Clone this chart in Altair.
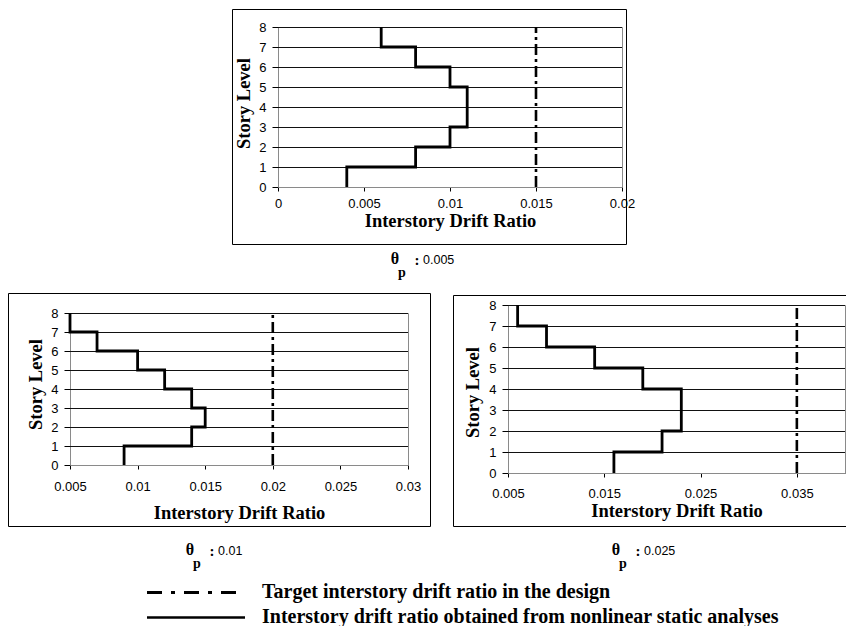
import altair as alt
import pandas as pd

W, H = 838, 618

# ---------------- data ----------------
levels = [0, 1, 2, 3, 4, 5, 6, 7, 8]
grid_levels = [1, 2, 3, 4, 5, 6, 7, 8]

# drift of each story (story i spans level i-1 .. i), stories 1..8
top_drift = [0.004, 0.008, 0.010, 0.011, 0.011, 0.010, 0.008, 0.006]
top_target = 0.015
top_xdomain = [0.0, 0.02]
top_xticks = [0.0, 0.005, 0.01, 0.015, 0.02]

bl_drift = [0.009, 0.014, 0.015, 0.014, 0.012, 0.010, 0.007, 0.005]
bl_target = 0.02
bl_xdomain = [0.005, 0.03]
bl_xticks = [0.005, 0.01, 0.015, 0.02, 0.025, 0.03]

br_drift = [0.016, 0.021, 0.023, 0.023, 0.019, 0.014, 0.009, 0.006]
br_target = 0.035
br_xdomain = [0.005, 0.04]
br_xticks = [0.005, 0.015, 0.025, 0.035]

theta_p = ["0.005", "0.01", "0.025"]
legend_labels = [
    "Target interstory drift ratio in the design",
    "Interstory drift ratio obtained from nonlinear static analyses",
]
x_title = "Interstory Drift Ratio"
y_title = "Story Level"

# ---------------- styles ----------------
SERIF = "Liberation Serif"
SANS = "Liberation Sans"
AX = dict(
    labelFont=SANS, labelFontSize=13, labelColor="#000",
    titleFont=SERIF, titleFontSize=18.5, titleFontWeight="bold", titleColor="#000",
    domainColor="#000", tickColor="#000", grid=False,
    labelOverlap=False, labelFlush=False,
)


def step_df(drift):
    xs, ys = [], []
    for i, v in enumerate(drift):
        xs += [v, v]
        ys += [levels[i], levels[i + 1]]
    return pd.DataFrame({"x": xs, "y": ys, "o": list(range(len(xs)))})


def panel(drift, target, xdomain, xticks, xr, yr, lab_pad, title_y, ytx, yty):
    xs = alt.Scale(domain=xdomain, range=xr, nice=False, zero=False)
    ys = alt.Scale(domain=[levels[0], levels[-1]], range=yr, nice=False, zero=False)
    xaxis = alt.Axis(orient="bottom", offset=yr[0] - H, values=xticks, format=".4~g",
                     title=x_title, tickSize=4, labelPadding=lab_pad,
                     titleY=title_y, titleBaseline="middle", **AX)
    yaxis = alt.Axis(orient="left", offset=-xr[0], values=levels, format="d",
                     title=y_title, tickSize=6, labelPadding=6,
                     titleX=ytx, titleY=yty, titleAngle=270,
                     titleAlign="center", titleBaseline="middle", **AX)
    X = alt.X("x:Q", scale=xs, axis=xaxis)
    Y = alt.Y("y:Q", scale=ys, axis=yaxis)

    border = alt.Chart(pd.DataFrame({"x": [xdomain[0]], "x2": [xdomain[1]],
                                     "y": [levels[0]], "y2": [levels[-1]]})).mark_rect(
        fillOpacity=0, stroke="#8a8a8a", strokeWidth=1,
        xOffset=0.5, x2Offset=0.5, yOffset=0.5, y2Offset=0.5,
    ).encode(x=X, x2="x2:Q", y=Y, y2="y2:Q")

    grid = alt.Chart(pd.DataFrame({"y": grid_levels,
                                   "x": [xdomain[0]] * len(grid_levels),
                                   "x2": [xdomain[1]] * len(grid_levels)})).mark_rule(
        color="#111", strokeWidth=1, yOffset=0.5,
    ).encode(x=X, x2="x2:Q", y=Y)

    tgt = alt.Chart(pd.DataFrame({"x": [target], "y": [levels[0]], "y2": [levels[-1]]})).mark_rule(
        color="#000", strokeWidth=2.6, strokeDash=[11, 4, 3, 4],
    ).encode(x=X, y=Y, y2="y2:Q")

    line = alt.Chart(step_df(drift)).mark_line(
        color="#000", strokeWidth=2.8, strokeJoin="miter",
    ).encode(x=X, y=Y, order="o:Q")

    return alt.layer(border, grid, tgt, line)


one = pd.DataFrame({"k": [0]})


def frame(x0, y0, x1, y1):
    return alt.Chart(one).mark_rect(fillOpacity=0, stroke="#000", strokeWidth=1).encode(
        x=alt.value(x0), x2=alt.value(x1), y=alt.value(y0), y2=alt.value(y1))


def txt(s, x, y, font, size, weight="normal", align="center"):
    return alt.Chart(pd.DataFrame({"t": [s]})).mark_text(
        font=font, fontSize=size, fontWeight=weight, align=align, baseline="middle", color="#000",
    ).encode(x=alt.value(x), y=alt.value(y), text="t:N")


def caption(cx, cy, value):
    return [
        txt("θ", cx, cy, SERIF, 16, "bold"),
        txt("p", cx + 7, cy + 14, SERIF, 14, "bold"),
        txt(":", cx + 22, cy + 1, SERIF, 15, "bold"),
        txt(value, cx + 28, cy + 1, SANS, 12.5, "normal", "left"),
    ]


top = panel(top_drift, top_target, top_xdomain, top_xticks,
            [270, 614], [179, 19], 6, 33, -35, 95)
bl = panel(bl_drift, bl_target, bl_xdomain, bl_xticks,
           [62, 400], [457, 305], 11, 47, -35, 376)
br = panel(br_drift, br_target, br_xdomain, br_xticks,
           [500, 837], [465, 297], 10, 37, -36, 384)

decor = [
    frame(224.5, 1.5, 618.5, 236.5),
    frame(0.5, 285.5, 422.5, 518.5),
    frame(445.5, 287.5, 845.5, 518.5),
]
decor += caption(387, 251, theta_p[0])
decor += caption(182, 542, theta_p[1])
decor += caption(608, 542, theta_p[2])

legend_dash = alt.Chart(one).mark_rule(color="#000", strokeWidth=3, strokeDash=[15, 9, 4, 9]).encode(
    x=alt.value(139), x2=alt.value(237), y=alt.value(584.5))
legend_solid = alt.Chart(one).mark_rule(color="#000", strokeWidth=2.5).encode(
    x=alt.value(139), x2=alt.value(237), y=alt.value(609.5))
decor += [legend_dash, legend_solid,
          txt(legend_labels[0], 254, 584, SERIF, 20, "bold", "left"),
          txt(legend_labels[1], 254, 609, SERIF, 20, "bold", "left")]

chart = alt.layer(top, bl, br, *decor).resolve_scale(
    x="independent", y="independent"
).properties(
    width=W, height=H, autosize=alt.AutoSizeParams(type="none"), padding=0,
).configure_view(stroke="transparent")

chart.save("out.html", embed_options={"renderer": "svg", "actions": False})
